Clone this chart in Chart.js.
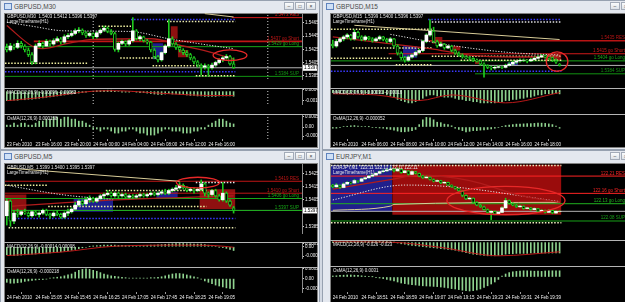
<!DOCTYPE html>
<html>
<head>
<meta charset="utf-8">
<script src="https://cdn.jsdelivr.net/npm/chart.js@4.4.1/dist/chart.umd.min.js"></script>
<style>
html, body { margin: 0; padding: 0; }
body { width: 625px; height: 302px; overflow: hidden; position: relative; background: #d3d9e3; font-family: "Liberation Sans", Arial, sans-serif; }
.win { position: absolute; background: #e4e8ef; border: 1px solid #97a1b0; box-sizing: border-box; }
.ttl { position: absolute; font-size: 6.5px; color: #4a4a4a; white-space: pre; }
.ico { position: absolute; width: 6px; height: 5px; border: 1px solid #5f83bd; background: #cfe0f6; }
.btn { position: absolute; width: 10px; height: 8px; border: 1px solid #a3abb8; background: linear-gradient(#fbfcfd, #dce1e8); box-sizing: border-box; font-size: 5px; line-height: 6px; text-align: center; color: #333; }
.blk { position: absolute; background: #000; border: 1px solid #808080; box-sizing: border-box; }
.sep { position: absolute; height: 1px; background: #b4b4b4; }
.hdr { position: absolute; font-size: 4.5px; line-height: 5px; color: #e6e6e6; white-space: pre; z-index: 5; }
canvas { position: absolute; }
</style>
</head>
<body>
<script>
// ===== MT4 four-window screenshot =====
const FONT = '"Liberation Sans", Arial, sans-serif';
const FS = 4.5;
const SLOTS = 82.5;     // bar slots across one plot
const PLOT_W = 297;
const AXIS_W = 16;
const XMAX = SLOTS - 0.5;

// ----- GBPUSD,M30 -----
const m30Times = ['23 Feb 2010', '23 Feb 16:00', '23 Feb 20:00', '24 Feb 00:00', '24 Feb 04:00', '24 Feb 08:00', '24 Feb 12:00', '24 Feb 16:00'];
const m30Candles = [
  [1.5428,1.5433,1.5421,1.5424],[1.5424,1.5434,1.5422,1.5430],[1.5430,1.5433,1.5425,1.5428],[1.5428,1.5438,1.5426,1.5434],
  [1.5434,1.5437,1.5427,1.5430],[1.5430,1.5432,1.5421,1.5424],[1.5424,1.5427,1.5414,1.5417],[1.5417,1.5420,1.5402,1.5406],
  [1.5406,1.5433,1.5403,1.5430],[1.5430,1.5438,1.5428,1.5434],[1.5434,1.5436,1.5427,1.5430],[1.5430,1.5440,1.5429,1.5437],
  [1.5437,1.5439,1.5430,1.5433],[1.5433,1.5441,1.5431,1.5438],[1.5438,1.5444,1.5436,1.5441],[1.5441,1.5443,1.5433,1.5436],
  [1.5436,1.5447,1.5434,1.5444],[1.5444,1.5449,1.5441,1.5446],[1.5446,1.5452,1.5444,1.5449],[1.5449,1.5456,1.5447,1.5453],
  [1.5453,1.5458,1.5450,1.5454],[1.5454,1.5456,1.5447,1.5450],[1.5450,1.5452,1.5443,1.5446],[1.5446,1.5451,1.5444,1.5449],
  [1.5449,1.5450,1.5441,1.5444],[1.5444,1.5452,1.5442,1.5450],[1.5450,1.5456,1.5448,1.5454],[1.5454,1.5460,1.5452,1.5457],
  [1.5457,1.5459,1.5450,1.5452],[1.5452,1.5455,1.5447,1.5449],[1.5449,1.5451,1.5422,1.5425],[1.5425,1.5436,1.5421,1.5434],
  [1.5434,1.5439,1.5432,1.5437],[1.5437,1.5438,1.5430,1.5433],[1.5433,1.5440,1.5431,1.5438],[1.5438,1.5473,1.5436,1.5453],
  [1.5453,1.5455,1.5439,1.5441],[1.5441,1.5446,1.5438,1.5444],[1.5444,1.5445,1.5436,1.5438],[1.5438,1.5440,1.5433,1.5436],
  [1.5436,1.5437,1.5421,1.5424],[1.5424,1.5426,1.5411,1.5414],[1.5414,1.5416,1.5406,1.5409],[1.5409,1.5421,1.5407,1.5420],
  [1.5420,1.5432,1.5418,1.5430],[1.5430,1.5470,1.5428,1.5441],[1.5441,1.5444,1.5431,1.5433],[1.5433,1.5435,1.5425,1.5428],
  [1.5428,1.5430,1.5421,1.5424],[1.5424,1.5426,1.5417,1.5420],[1.5420,1.5423,1.5414,1.5417],[1.5417,1.5419,1.5409,1.5412],
  [1.5412,1.5414,1.5403,1.5406],[1.5406,1.5408,1.5398,1.5401],[1.5401,1.5403,1.5386,1.5398],[1.5398,1.5403,1.5395,1.5400],
  [1.5400,1.5402,1.5385,1.5397],[1.5397,1.5404,1.5395,1.5401],[1.5401,1.5407,1.5399,1.5405],[1.5405,1.5411,1.5403,1.5409],
  [1.5409,1.5414,1.5406,1.5412],[1.5412,1.5417,1.5410,1.5414],[1.5414,1.5416,1.5401,1.5403],[1.5403,1.5412,1.5396,1.5397]
];
const m30Macd = [
  -0.0019,-0.0019,-0.0018,-0.0018,-0.0017,-0.0017,-0.0016,-0.0016,-0.0015,-0.0014,-0.0013,-0.0012,
  -0.0011,-0.0010,-0.0009,-0.0008,-0.0007,-0.0006,-0.0005,-0.0004,-0.0003,-0.0002,-0.0001,0.0000,
  0.0001,0.0002,0.0002,0.0003,0.0003,0.0003,0.0001,0.0000,-0.0001,-0.0001,-0.0001,0.0000,
  -0.0001,-0.0002,-0.0002,-0.0003,-0.0004,-0.0005,-0.0006,-0.0006,-0.0005,-0.0004,-0.0005,-0.0005,
  -0.0006,-0.0006,-0.0007,-0.0008,-0.0008,-0.0009,-0.0009,-0.0010,-0.0010,-0.0010,-0.0010,-0.0009,
  -0.0009,-0.0009,-0.0009,-0.00096
];
const m30Signal = [[0,-0.0019],[10,-0.0012],[24,0.0001],[30,0.0002],[42,-0.0003],[56,-0.0008],[63,-0.00082]];
const m30Osma = [
  0.0001,0.0001,0.0002,0.0001,0.0002,0.0002,0.0001,0.0001,0.0002,0.0003,0.0003,0.0004,
  0.0004,0.0005,0.0005,0.0004,0.0005,0.0005,0.0004,0.0004,0.0003,0.0003,0.0002,0.0001,
  -0.0001,-0.0001,-0.0002,-0.0001,-0.0001,-0.0002,-0.0003,-0.0003,-0.0002,-0.0002,-0.0001,-0.0001,
  -0.0002,-0.0003,-0.0003,-0.0004,-0.0004,-0.0004,-0.0003,-0.0002,-0.0001,-0.0001,-0.0002,-0.0002,
  -0.0002,-0.0003,-0.0003,-0.0003,-0.0002,-0.0002,-0.0001,-0.0001,0.0001,0.0002,0.0003,0.0004,
  0.0004,0.0003,0.0002,0.000158
];
const m30Levels = [[1.5473,'RES','#d21a1a',63,1],[1.5437,'go Short','#c01616',8,1.6],[1.5429,'go Long','#18a818',0,1],[1.5384,'SUP','#129212',0,1]];
const m30Dots = [[1.5470,35,63,'#3a3aff'],[1.5467,45,63,'#e8e8b0'],[1.5460,26,34,'#f0f0a0'],[1.5412,32,41,'#f0f0a0'],[1.5404,0,22,'#f0f0a0'],[1.5400,41,54,'#f0f0a0'],[1.5391,0,63,'#3a3aff'],[1.5385,53,63,'#f0f0a0']];
const m30Boxes = [[41,43,1.5410,1.5434,'#1e1e8e'],[46,47,1.5441,1.5460,'#8e1010'],[48,50,1.5413,1.5424,'#8e1010']];
const m30RedMa = [[0,1.5461],[7,1.5430],[10,1.5426],[17,1.5434],[24,1.5440],[40,1.5441],[49,1.5430],[57,1.5420],[63,1.5410]];
const m30WhiteMa = [[0,1.5466],[7,1.5460],[16,1.5453],[34,1.5452],[45,1.5441],[54,1.5433],[63,1.5426]];
const m30Cream = [[55,1.5479],[63,1.5474]];
const m30Ellipse = [62, 1.5416, 4.7, 0.0008];
const m30PriceTicks = [1.5465, 1.5445, 1.5425, 1.5405, 1.5385];
const m30MacdTicks = [0.00043, -0.00194];
const m30OsmaTicks = [0.00051, 0, -0.00045];

// ----- GBPUSD,M15 -----
const m15Times = ['24 Feb 2010', '24 Feb 06:00', '24 Feb 08:00', '24 Feb 10:00', '24 Feb 12:00', '24 Feb 14:00', '24 Feb 16:00', '24 Feb 18:00'];
const m15Candles = [
  [1.5430,1.5436,1.5424,1.5427],[1.5427,1.5437,1.5425,1.5434],[1.5434,1.5440,1.5432,1.5438],[1.5438,1.5443,1.5435,1.5441],
  [1.5441,1.5446,1.5438,1.5444],[1.5444,1.5445,1.5436,1.5438],[1.5438,1.5452,1.5436,1.5448],[1.5448,1.5450,1.5439,1.5441],
  [1.5441,1.5443,1.5435,1.5437],[1.5437,1.5443,1.5435,1.5441],[1.5441,1.5442,1.5436,1.5438],[1.5438,1.5440,1.5433,1.5435],
  [1.5435,1.5440,1.5434,1.5438],[1.5438,1.5443,1.5436,1.5441],[1.5441,1.5442,1.5435,1.5437],[1.5437,1.5439,1.5432,1.5434],
  [1.5434,1.5440,1.5432,1.5438],[1.5438,1.5439,1.5425,1.5427],[1.5427,1.5429,1.5413,1.5416],[1.5416,1.5418,1.5406,1.5409],
  [1.5409,1.5411,1.5402,1.5405],[1.5405,1.5412,1.5403,1.5410],[1.5410,1.5415,1.5408,1.5413],[1.5413,1.5419,1.5411,1.5417],
  [1.5417,1.5422,1.5415,1.5420],[1.5420,1.5436,1.5418,1.5434],[1.5434,1.5446,1.5432,1.5444],[1.5444,1.5468,1.5442,1.5450],
  [1.5450,1.5456,1.5432,1.5434],[1.5434,1.5436,1.5425,1.5427],[1.5427,1.5433,1.5426,1.5430],[1.5430,1.5431,1.5422,1.5424],
  [1.5424,1.5428,1.5423,1.5427],[1.5427,1.5428,1.5418,1.5420],[1.5420,1.5422,1.5414,1.5416],[1.5416,1.5418,1.5411,1.5413],
  [1.5413,1.5415,1.5408,1.5410],[1.5410,1.5412,1.5407,1.5409],[1.5409,1.5411,1.5405,1.5408],[1.5408,1.5409,1.5403,1.5405],
  [1.5405,1.5407,1.5402,1.5404],[1.5404,1.5405,1.5397,1.5399],[1.5399,1.5401,1.5379,1.5397],[1.5397,1.5398,1.5392,1.5394],
  [1.5394,1.5396,1.5390,1.5393],[1.5393,1.5396,1.5391,1.5394],[1.5394,1.5397,1.5393,1.5395],[1.5395,1.5396,1.5392,1.5394],
  [1.5394,1.5399,1.5393,1.5397],[1.5397,1.5401,1.5396,1.5399],[1.5399,1.5404,1.5398,1.5402],[1.5402,1.5405,1.5400,1.5404],
  [1.5404,1.5407,1.5402,1.5405],[1.5405,1.5407,1.5403,1.5405],[1.5405,1.5406,1.5401,1.5404],[1.5404,1.5408,1.5403,1.5406],
  [1.5406,1.5410,1.5405,1.5408],[1.5408,1.5412,1.5407,1.5410],[1.5410,1.5414,1.5409,1.5412],[1.5412,1.5413,1.5408,1.5410],
  [1.5410,1.5411,1.5406,1.5409],[1.5409,1.5410,1.5403,1.5405],[1.5405,1.5407,1.5400,1.5402],[1.5399,1.5400,1.5396,1.5397]
];
const m15Macd = [
  -0.0002,-0.0002,-0.0003,-0.0003,-0.0003,-0.0002,-0.0002,-0.0002,-0.0003,-0.0003,-0.0003,-0.0003,
  -0.0003,-0.0003,-0.0003,-0.0004,-0.0005,-0.0006,-0.0008,-0.0009,-0.0010,-0.0011,-0.0011,-0.0010,
  -0.0009,-0.0007,-0.0005,-0.0004,-0.0004,-0.0005,-0.0005,-0.0006,-0.0006,-0.0006,-0.0007,-0.0008,
  -0.0008,-0.0009,-0.0009,-0.0010,-0.0010,-0.0011,-0.0011,-0.0011,-0.0011,-0.0011,-0.0010,-0.0010,
  -0.0009,-0.0009,-0.0008,-0.0008,-0.0007,-0.0007,-0.0006,-0.0006,-0.0005,-0.0004,-0.0004,-0.0003,
  -0.0003,-0.0003,-0.0003,-0.00031
];
const m15Signal = [[0,-0.0003],[12,-0.0004],[24,-0.0009],[33,-0.0004],[48,-0.0011],[63,-0.0002]];
const m15Osma = [
  -0.00005,-0.00005,-0.00003,0.00002,0.00003,0.00005,0.00006,0.00004,0.00002,0.00002,0.00001,-0.00002,
  -0.00003,-0.00004,-0.00005,-0.00008,-0.0001,-0.00013,-0.00017,-0.0002,-0.0002,-0.00018,-0.00015,-0.0001,
  0.0001,0.0003,0.0004,0.00038,0.0003,0.0002,0.00018,0.00012,0.0001,0.00005,-0.00005,-0.0001,
  -0.00015,-0.0002,-0.00018,-0.00015,-0.00015,-0.00013,-0.00012,-0.0001,-0.00008,-0.00005,-0.00002,0.00003,
  0.00006,0.00008,0.0001,0.00012,0.00012,0.00013,0.00014,0.00014,0.00015,0.00016,0.00016,0.00015,
  0.00013,0.0001,0.00004,-0.000052
];
const m15Levels = [[1.5435,'RES','#b81414',27,1.4],[1.5415,'go Short','#d01a1a',16,1],[1.5404,'go Long','#18a818',0,1],[1.5384,'SUP','#129212',40,1]];
const m15Dots = [[1.5468,27,63,'#3a3aff'],[1.5464,28,63,'#e0e0e0'],[1.5453,0,27,'#f0f0a0'],[1.5424,6,27,'#f0f0a0'],[1.5408,0,16,'#f0f0a0'],[1.5398,18,27,'#f0f0a0'],[1.5411,28,63,'#f0f0a0'],[1.5405,36,63,'#f0f0a0'],[1.5388,0,63,'#3a3aff']];
const m15Boxes = [[20,23,1.5409,1.5427,'#1e1e8e'],[49,51,1.5396,1.5402,'#1e1e8e'],[28,30,1.5431,1.5441,'#8e1010'],[33,35,1.5420,1.5427,'#8e1010'],[40,41,1.5399,1.5404,'#8e1010'],[60,63,1.5404,1.5415,'#8e1010']];
const m15RedMa = [[0,1.5441],[15,1.5431],[27,1.5423],[38,1.5413],[50,1.5410],[63,1.5410]];
const m15WhiteMa = [[16,1.5445],[34,1.5427],[49,1.5417],[63,1.5413]];
const m15Cream = [[6,1.5459],[63,1.5437]];
const m15Ellipse = [62.3, 1.5403, 3, 0.0015];
const m15PriceTicks = [1.5465, 1.5445, 1.5425, 1.5405, 1.5385];
const m15MacdTicks = [0.0001, -0.0011];
const m15OsmaTicks = [0.0004, 0, -0.0004];

// ----- GBPUSD,M5 -----
const m5Times = ['24 Feb 2010', '24 Feb 15:05', '24 Feb 15:45', '24 Feb 16:25', '24 Feb 17:05', '24 Feb 17:45', '24 Feb 18:25', '24 Feb 19:05'];
const m5Candles = [
  [1.5393,1.5406,1.5386,1.5404],[1.5404,1.5405,1.5385,1.5389],[1.5389,1.5397,1.5387,1.5395],[1.5395,1.5398,1.5392,1.5394],
  [1.5394,1.5397,1.5393,1.5396],[1.5396,1.5398,1.5394,1.5395],[1.5395,1.5396,1.5392,1.5393],[1.5393,1.5397,1.5392,1.5396],
  [1.5396,1.5397,1.5393,1.5394],[1.5394,1.5396,1.5392,1.5395],[1.5395,1.5398,1.5394,1.5397],[1.5397,1.5398,1.5393,1.5394],
  [1.5394,1.5395,1.5391,1.5393],[1.5393,1.5396,1.5392,1.5395],[1.5395,1.5397,1.5393,1.5394],[1.5394,1.5395,1.5391,1.5392],
  [1.5392,1.5396,1.5391,1.5395],[1.5395,1.5398,1.5393,1.5396],[1.5396,1.5399,1.5395,1.5398],[1.5398,1.5403,1.5397,1.5401],
  [1.5401,1.5405,1.5400,1.5404],[1.5404,1.5405,1.5401,1.5402],[1.5402,1.5407,1.5401,1.5405],[1.5405,1.5408,1.5403,1.5406],
  [1.5406,1.5407,1.5403,1.5404],[1.5404,1.5407,1.5403,1.5406],[1.5406,1.5409,1.5405,1.5408],[1.5408,1.5410,1.5406,1.5409],
  [1.5409,1.5412,1.5408,1.5410],[1.5410,1.5411,1.5407,1.5408],[1.5408,1.5411,1.5407,1.5410],[1.5410,1.5411,1.5406,1.5408],
  [1.5408,1.5410,1.5407,1.5409],[1.5409,1.5410,1.5406,1.5407],[1.5407,1.5409,1.5406,1.5408],[1.5408,1.5409,1.5406,1.5407],
  [1.5407,1.5409,1.5406,1.5408],[1.5408,1.5410,1.5407,1.5409],[1.5409,1.5410,1.5407,1.5408],[1.5408,1.5410,1.5407,1.5409],
  [1.5409,1.5411,1.5408,1.5410],[1.5410,1.5411,1.5408,1.5409],[1.5409,1.5411,1.5408,1.5410],[1.5410,1.5412,1.5409,1.5411],
  [1.5411,1.5413,1.5409,1.5410],[1.5410,1.5413,1.5409,1.5412],[1.5412,1.5414,1.5411,1.5413],[1.5413,1.5416,1.5412,1.5414],
  [1.5414,1.5418,1.5413,1.5416],[1.5416,1.5417,1.5413,1.5414],[1.5414,1.5415,1.5411,1.5412],[1.5412,1.5414,1.5411,1.5413],
  [1.5413,1.5414,1.5410,1.5412],[1.5412,1.5414,1.5411,1.5413],[1.5413,1.5420,1.5412,1.5417],[1.5417,1.5418,1.5408,1.5410],
  [1.5410,1.5411,1.5407,1.5409],[1.5409,1.5413,1.5408,1.5412],[1.5412,1.5413,1.5407,1.5408],[1.5408,1.5409,1.5404,1.5405],
  [1.5405,1.5418,1.5404,1.5410],[1.5410,1.5411,1.5403,1.5404],[1.5404,1.5405,1.5400,1.5401],[1.5399,1.5400,1.5395,1.5397]
];
const m5Macd = [
  -0.00030,-0.00032,-0.00033,-0.00032,-0.00031,-0.00030,-0.00029,-0.00028,-0.00027,-0.00026,-0.00025,-0.00024,
  -0.00023,-0.00022,-0.00020,-0.00019,-0.00017,-0.00015,-0.00013,-0.00010,-0.00007,-0.00004,-0.00002,0.00001,
  0.00003,0.00004,0.00005,0.00006,0.00006,0.00006,0.00006,0.00005,0.00005,0.00005,0.00005,0.00005,
  0.00005,0.00005,0.00005,0.00005,0.00006,0.00006,0.00007,0.00008,0.00009,0.00010,0.00011,0.00012,
  0.00012,0.00012,0.00011,0.00011,0.00010,0.00010,0.00010,0.00008,0.00006,0.00004,0.00002,-0.00001,
  -0.00003,-0.00006,-0.00010,-0.00014
];
const m5Signal = [[0,-0.00033],[15,-0.00020],[30,0.00002],[48,0.00006],[57,0.00005],[63,-0.00002]];
const m5Osma = [
  -0.00008,-0.0001,-0.0001,-0.00009,-0.00008,-0.00006,-0.00005,-0.00004,-0.00003,-0.00002,-0.00002,-0.00001,
  0.00001,0.00002,0.00003,0.00004,0.00006,0.00008,0.0001,0.00014,0.00018,0.0002,0.00021,0.0002,
  0.00018,0.00016,0.00013,0.0001,0.00008,0.00006,0.00005,0.00004,0.00003,0.00002,0.00001,0.00001,
  0.00001,0.00001,0.00001,0.00001,0.00002,0.00002,0.00003,0.00004,0.00006,0.00008,0.0001,0.00011,
  0.00011,0.0001,0.00008,0.00006,0.00004,0.00002,-0.00001,-0.00005,-0.00008,-0.00011,-0.00014,-0.00016,
  -0.00018,-0.0002,-0.00021,-0.000218
];
const m5Levels = [[1.5419,'RES','#c01616',0,1],[1.5410,'go Short','#c01616',0,1],[1.5406,'go Long','#18a818',0,1],[1.5397,'SUP','#18a818',0,1]];
const m5Dots = [[1.5416,0,11,'#f0f0a0'],[1.5412,28,55,'#f0f0a0'],[1.5400,12,55,'#f0f0a0'],[1.5418,53,63,'#e8e8e8'],[1.5391,1,63,'#3a3aff'],[1.5384,1,63,'#e8e8b0']];
const m5Boxes = [[0,5,1.5396,1.5409,'#8e1010'],[19,29,1.5396,1.5406,'#1e1e8e'],[42,47,1.5406,1.5411,'#1e1e8e'],[54,63,1.5398,1.5413,'#8e1010']];
const m5RedMa = [[0,1.5400],[30,1.5405],[63,1.5408]];
const m5WhiteMa = [[0,1.5416],[15,1.5409],[30,1.5405]];
const m5Cream = [[0,1.5429],[48,1.5419]];
const m5Ellipse = [53.1, 1.5418, 6, 0.0004];
const m5PriceTicks = [1.5425, 1.5415, 1.5405, 1.5385];
const m5MacdTicks = [0.00012, 0, -0.00035];
const m5OsmaTicks = [0.00021, 0, -0.00021];

// ----- EURJPY,M1 -----
const m1Times = ['24 Feb 2010', '24 Feb 18:51', '24 Feb 18:59', '24 Feb 19:07', '24 Feb 19:15', '24 Feb 19:23', '24 Feb 19:31', '24 Feb 19:39'];
const m1Candles = [
  [122.184,122.186,122.176,122.179],[122.179,122.188,122.177,122.184],[122.184,122.185,122.174,122.177],[122.177,122.190,122.176,122.187],
  [122.187,122.194,122.185,122.192],[122.192,122.193,122.187,122.190],[122.190,122.200,122.189,122.197],[122.197,122.198,122.192,122.195],
  [122.195,122.204,122.194,122.202],[122.202,122.207,122.200,122.205],[122.205,122.212,122.204,122.210],[122.210,122.215,122.208,122.213],
  [122.213,122.220,122.212,122.218],[122.218,122.225,122.216,122.223],[122.223,122.228,122.221,122.225],[122.225,122.231,122.224,122.228],
  [122.228,122.234,122.227,122.230],[122.230,122.232,122.222,122.225],[122.225,122.234,122.224,122.230],[122.230,122.231,122.218,122.220],
  [122.220,122.227,122.219,122.225],[122.225,122.226,122.213,122.215],[122.215,122.225,122.214,122.223],[122.223,122.224,122.216,122.218],
  [122.218,122.219,122.208,122.210],[122.210,122.212,122.203,122.205],[122.205,122.210,122.204,122.207],[122.207,122.208,122.198,122.200],
  [122.200,122.202,122.193,122.195],[122.195,122.199,122.194,122.197],[122.197,122.198,122.188,122.190],[122.190,122.194,122.189,122.192],
  [122.192,122.193,122.182,122.184],[122.184,122.185,122.177,122.179],[122.179,122.180,122.172,122.174],[122.174,122.175,122.165,122.167],
  [122.167,122.168,122.150,122.154],[122.154,122.156,122.142,122.144],[122.144,122.149,122.143,122.146],[122.146,122.147,122.131,122.134],
  [122.134,122.136,122.124,122.126],[122.126,122.128,122.119,122.121],[122.121,122.123,122.111,122.113],[122.113,122.115,122.103,122.105],
  [122.105,122.110,122.084,122.108],[122.108,122.109,122.098,122.100],[122.100,122.107,122.099,122.105],[122.105,122.121,122.104,122.118],
  [122.118,122.146,122.116,122.139],[122.139,122.141,122.129,122.131],[122.131,122.133,122.124,122.126],[122.126,122.128,122.119,122.121],
  [122.121,122.125,122.120,122.123],[122.123,122.124,122.114,122.116],[122.116,122.120,122.115,122.118],[122.118,122.119,122.111,122.113],
  [122.113,122.118,122.112,122.116],[122.116,122.117,122.106,122.108],[122.108,122.113,122.107,122.111],[122.111,122.112,122.103,122.105],
  [122.105,122.113,122.104,122.111],[122.111,122.112,122.101,122.103],[122.103,122.110,122.102,122.108],[122.108,122.110,122.106,122.108]
];
const m1Macd = [
  0.002,0.002,0.002,0.002,0.003,0.003,0.003,0.003,0.003,0.003,0.003,0.003,
  0.003,0.003,0.003,0.003,0.002,0.001,-0.001,-0.003,-0.004,-0.006,-0.007,-0.008,
  -0.009,-0.010,-0.011,-0.012,-0.013,-0.014,-0.015,-0.016,-0.017,-0.018,-0.019,-0.021,
  -0.023,-0.025,-0.027,-0.029,-0.030,-0.031,-0.032,-0.033,-0.033,-0.033,-0.032,-0.031,
  -0.029,-0.028,-0.028,-0.027,-0.027,-0.027,-0.027,-0.026,-0.026,-0.026,-0.026,-0.026,
  -0.026,-0.026,-0.026,-0.026
];
const m1Signal = [[0,0.002],[16,0.001],[30,-0.012],[46,-0.033],[63,-0.023]];
const m1Osma = [
  0.0005,0.0006,0.0008,0.0009,0.001,0.001,0.0009,0.0008,0.0006,0.0004,0.0002,0.0001,
  -0.0002,-0.0005,-0.0008,-0.0012,-0.0016,-0.002,-0.0025,-0.003,-0.0033,-0.0036,-0.0038,-0.004,
  -0.0042,-0.0044,-0.0045,-0.0046,-0.0047,-0.0048,-0.005,-0.0052,-0.0055,-0.0058,-0.006,-0.0063,
  -0.0066,-0.0068,-0.007,-0.0068,-0.0065,-0.006,-0.0052,-0.0044,-0.0035,-0.0025,-0.0012,0.0004,
  0.0015,0.0022,0.0026,0.0028,0.003,0.0031,0.0031,0.003,0.0029,0.0029,0.0028,0.003,
  0.0031,0.0031,0.0031,0.0031
];
const m1Levels = [[122.21,'RES','#ff2424',0,1],[122.16,'go Short','#ff2424',0,1],[122.13,'go Long','#20b020',0,1],[122.08,'SUP','#18a018',0,1]];
const m1Dots = [[122.241,0,63,'#f0f0c0'],[122.075,0,63,'#f0f0c0']];
const m1Boxes = [[0,16,122.108,122.243,'#20208c'],[17,63,122.098,122.243,'#9a0c0c']];
const m1RedMa = [[0,122.172],[16,122.200],[24,122.213],[38,122.197],[52,122.154],[63,122.134]];
const m1WhiteMa = [[0,122.141],[20,122.184],[33,122.179],[63,122.136]];
const m1Cream = [[0,122.111],[16,122.123],[17,122.128],[63,122.134]];
const m1Ellipse = [48.1, 122.139, 16.4, 0.041];
const m1PriceTicks = [122.23, 122.19, 122.15, 122.11, 122.07];
const m1MacdTicks = [0.003, -0.033];
const m1OsmaTicks = [0.0031, 0, -0.007];

// ===== drawing =====
const overlayPlugin = {
  id: 'mt4',
  afterDatasetsDraw(chart, args, o) {
    if (!o || !o.on) return;
    const { ctx, chartArea: a, scales: { x, y } } = chart;
    ctx.save();
    ctx.font = `${FS}px ${FONT}`;
    ctx.textAlign = 'right';
    ctx.textBaseline = 'bottom';
    (o.levels || []).forEach(([v, name, col]) => {
      ctx.fillStyle = col;
      ctx.fillText(`${v.toFixed(o.digits)} ${name}`, a.right - 3, y.getPixelForValue(v) - 0.5);
    });
    if (o.ellipse) {
      const [cx, cy, dx, dy] = o.ellipse;
      const px = x.getPixelForValue(cx), py = y.getPixelForValue(cy);
      const rx = Math.abs(x.getPixelForValue(cx + dx) - px);
      const ry = Math.abs(y.getPixelForValue(cy + dy) - py);
      ctx.beginPath();
      ctx.ellipse(px, py, rx, ry, 0, 0, Math.PI * 2);
      ctx.strokeStyle = '#e82828';
      ctx.lineWidth = 1.3;
      ctx.stroke();
    }
    if (o.last != null) {
      const py = y.getPixelForValue(o.last);
      ctx.fillStyle = '#fff';
      ctx.fillRect(a.right + 1, py - 3, AXIS_W - 2, 6);
      ctx.fillStyle = '#000';
      ctx.textAlign = 'left';
      ctx.textBaseline = 'middle';
      ctx.fillText(o.last.toFixed(o.digits), a.right + 2, py + 0.3);
    }
    ctx.restore();
  }
};
Chart.register(overlayPlugin);

function xAxis(show, times) {
  return {
    type: 'linear', min: -0.5, max: XMAX, offset: false, display: show,
    afterBuildTicks: s => { s.ticks = times.map((t, k) => ({ value: k * 8 })); },
    afterFit: s => { s.height = 9; s.paddingLeft = 0; s.paddingRight = 0; },
    grid: { drawOnChartArea: false, color: '#9a9a9a', tickLength: 2 },
    border: { display: false },
    ticks: { color: '#f0f0f0', font: { size: FS, family: FONT }, align: 'start', padding: 1, maxRotation: 0, autoSkip: false,
      callback: (v, k) => times[k] }
  };
}

function yAxis(min, max, ticks, fmt) {
  return {
    position: 'right', min, max,
    afterBuildTicks: s => { s.ticks = ticks.map(v => ({ value: v })); },
    afterFit: s => { s.width = AXIS_W; s.paddingTop = 0; s.paddingBottom = 0; },
    grid: { drawOnChartArea: false, color: '#d0d0d0', tickLength: 2 },
    border: { color: '#8c8c8c' },
    ticks: { color: '#f0f0f0', font: { size: FS, family: FONT }, padding: 1, autoSkip: false, callback: v => fmt(v) }
  };
}

const flat = (v, a, b, col, w, dash, order) => ({
  type: 'line', data: [{ x: a, y: v }, { x: b, y: v }], borderColor: col, borderWidth: w, borderDash: dash, pointRadius: 0, order
});
const curve = (pts, col, w, dash) => ({
  type: 'line', data: pts.map(([x, y]) => ({ x, y })), borderColor: col, borderWidth: w, borderDash: dash,
  pointRadius: 0, tension: 0.4, cubicInterpolationMode: 'monotone', order: 3
});
const vlines = (xs, lo, hi) => xs.map(x => ({
  type: 'line', data: [{ x, y: lo }, { x, y: hi }], borderColor: '#cfcfcf', borderWidth: 1, borderDash: [1, 2], pointRadius: 0, order: 8
}));

function pane(left, top, height, datasets, y, showTime, times, overlay) {
  const cv = document.createElement('canvas');
  cv.width = PLOT_W + AXIS_W;
  cv.height = height;
  cv.style.left = left + 'px';
  cv.style.top = top + 'px';
  document.body.appendChild(cv);
  return new Chart(cv, {
    type: 'line',
    data: { datasets },
    options: {
      responsive: false, animation: false, devicePixelRatio: 1, events: [],
      layout: { padding: 0 },
      plugins: { legend: { display: false }, tooltip: { enabled: false }, mt4: overlay || { on: false } },
      scales: { x: xAxis(showTime, times), y }
    }
  });
}

function priceSets(w) {
  const sets = [];
  w.boxes.forEach(([a, b, lo, hi, col]) => sets.push({
    type: 'line', data: [{ x: a - 0.5, y: hi }, { x: b + 0.5, y: hi }], borderWidth: 0, pointRadius: 0,
    backgroundColor: col, fill: { value: lo }, order: 10
  }));
  sets.push(...vlines(w.vlines, w.pMin, w.pMax));
  w.levels.forEach(([v, name, col, from, lw]) => sets.push(flat(v, from - 0.5, XMAX, col, lw, [], 7)));
  const last = w.candles[w.candles.length - 1][3];
  sets.push(flat(last, -0.5, XMAX, '#b4b4b4', 1, [], 7));
  w.dots.forEach(([v, a, b, col]) => sets.push(flat(v, a - 0.5, b + 0.5, col, 1.5, [1.5, 1.6], 6)));
  sets.push(curve(w.redMa, '#b01c1c', 1.3, []));
  sets.push(curve(w.whiteMa, '#e8e8e8', 1, [1.2, 1.6]));
  sets.push(curve(w.cream, '#d8cc98', 1, []));
  const up = w.candles.map(k => k[3] >= k[0]);
  sets.push({ type: 'bar', data: w.candles.map((k, i) => ({ x: i, y: [k[2], k[1]] })), backgroundColor: '#1ec81e',
    barThickness: 1, grouped: false, order: 2 });
  sets.push({ type: 'bar', data: w.candles.map((k, i) => ({ x: i, y: [k[0], k[3]] })),
    backgroundColor: up.map(u => u ? '#ffffff' : '#000000'), borderColor: '#1ec81e',
    borderWidth: up.map(u => u ? 0 : 1), borderSkipped: false, barThickness: 3, grouped: false, order: 1 });
  return sets;
}

function histSets(values, signal, vl, lo, hi) {
  const sets = [
    { type: 'bar', data: values.map((v, i) => ({ x: i, y: v })), backgroundColor: '#8fd28f', barThickness: 1, grouped: false, order: 2 },
    ...vlines(vl, lo, hi)
  ];
  if (signal) sets.push({ type: 'line', data: signal.map(([x, y]) => ({ x, y })), borderColor: '#b81818', borderWidth: 1,
    pointRadius: 0, tension: 0.4, cubicInterpolationMode: 'monotone', order: 1 });
  return sets;
}

const fmtP = d => v => v.toFixed(d);
const fmtI = d => v => (v === 0 ? '0.00' : v.toFixed(d));

const windows = [
  { frame: [0, 0, 320, 150], blk: [4, 13, 314, 135], left: 5, tops: [13, 89, 115], hs: [75, 24, 33], seps: [88, 114],
    title: 'GBPUSD,M30', btns: [284, 295, 306],
    hdr: ['GBPUSD,M30  1.5403 1.5412 1.5396 1.5397', 'LargeTimeframe(H1)', 'MACD(12,26,9) -0.00096 -0.00082', 'OsMA(12,26,9) 0.000158'],
    digits: 4, times: m30Times, candles: m30Candles, levels: m30Levels, dots: m30Dots, boxes: m30Boxes,
    redMa: m30RedMa, whiteMa: m30WhiteMa, cream: m30Cream, ellipse: m30Ellipse, vlines: [24, 72.5],
    pMin: 1.5380, pMax: 1.5480, pTicks: m30PriceTicks,
    macd: m30Macd, signal: m30Signal, mMin: -0.0026, mMax: 0.00056, mTicks: m30MacdTicks, mFmt: fmtI(5),
    osma: m30Osma, oMin: -0.0006, oMax: 0.00061, oTicks: m30OsmaTicks, oFmt: fmtI(5) },
  { frame: [322, 0, 320, 150], blk: [330, 13, 320, 135], left: 331, tops: [13, 89, 115], hs: [75, 24, 33], seps: [88, 114],
    title: 'GBPUSD,M15', btns: [610, 621],
    hdr: ['GBPUSD,M15  1.5399 1.5400 1.5396 1.5397', 'LargeTimeframe(H1)', 'MACD(12,26,9) -0.00031 -0.00016', 'OsMA(12,26,9) -0.000052'],
    digits: 4, times: m15Times, candles: m15Candles, levels: m15Levels, dots: m15Dots, boxes: m15Boxes,
    redMa: m15RedMa, whiteMa: m15WhiteMa, cream: m15Cream, ellipse: m15Ellipse, vlines: [],
    pMin: 1.5376, pMax: 1.5478, pTicks: m15PriceTicks,
    macd: m15Macd, signal: m15Signal, mMin: -0.0012, mMax: 0.00012, mTicks: m15MacdTicks, mFmt: fmtI(5),
    osma: m15Osma, oMin: -0.0005, oMax: 0.0005, oTicks: m15OsmaTicks, oFmt: fmtI(5) },
  { frame: [0, 150, 320, 155], blk: [4, 163, 314, 142], left: 5, tops: [164, 243, 268], hs: [78, 24, 33], seps: [242, 267],
    title: 'GBPUSD,M5', btns: [284, 295, 306],
    hdr: ['GBPUSD,M5  1.5399 1.5400 1.5395 1.5397', 'LargeTimeframe(H1)', 'MACD(12,26,9) -0.00014 0.00008', 'OsMA(12,26,9) -0.000218'],
    digits: 4, times: m5Times, candles: m5Candles, levels: m5Levels, dots: m5Dots, boxes: m5Boxes,
    redMa: m5RedMa, whiteMa: m5WhiteMa, cream: m5Cream, ellipse: m5Ellipse, vlines: [],
    pMin: 1.5380, pMax: 1.5432, pTicks: m5PriceTicks,
    macd: m5Macd, signal: m5Signal, mMin: -0.00042, mMax: 0.00014, mTicks: m5MacdTicks, mFmt: fmtI(5),
    osma: m5Osma, oMin: -0.00029, oMax: 0.00023, oTicks: m5OsmaTicks, oFmt: fmtI(5) },
  { frame: [322, 150, 320, 155], blk: [330, 163, 320, 142], left: 331, tops: [164, 241, 267], hs: [76, 25, 34], seps: [240, 266],
    title: 'EURJPY,M1', btns: [610, 621],
    hdr: ['EURJPY,M1  122.11 122.11 122.11 122.11', 'LargeTimeframe(H1)', 'MACD(12,26,9) -0.026 -0.023', 'OsMA(12,26,9) 0.0031'],
    digits: 2, times: m1Times, candles: m1Candles, levels: m1Levels, dots: m1Dots, boxes: m1Boxes,
    redMa: m1RedMa, whiteMa: m1WhiteMa, cream: m1Cream, ellipse: m1Ellipse, vlines: [],
    pMin: 122.051, pMax: 122.245, pTicks: m1PriceTicks,
    macd: m1Macd, signal: m1Signal, mMin: -0.036, mMax: 0.004, mTicks: m1MacdTicks, mFmt: fmtI(3),
    osma: m1Osma, oMin: -0.0075, oMax: 0.005, oTicks: m1OsmaTicks, oFmt: fmtI(4) }
];

function box(cls, l, t, w, h, text) {
  const d = document.createElement('div');
  d.className = cls;
  d.style.left = l + 'px';
  d.style.top = t + 'px';
  if (w != null) d.style.width = w + 'px';
  if (h != null) d.style.height = h + 'px';
  if (text) d.textContent = text;
  document.body.appendChild(d);
  return d;
}

windows.forEach(w => {
  const [fl, ft, fw, fh] = w.frame;
  box('win', fl, ft, fw, fh);
  box('ico', fl + 4, ft + 3, null, null);
  box('ttl', fl + 14, ft + 2.5, null, null, w.title);
  ['\u2013', '\u25a1', '\u00d7'].forEach((g, k) => { if (w.btns[k] != null) box('btn', w.btns[k], ft + 2, null, null, g); });
  const [bl, bt, bw, bh] = w.blk;
  box('blk', bl, bt, bw, bh);
  w.seps.forEach(s => box('sep', bl, s, bw, null));

  const [pt, mt, ot] = w.tops;
  const [ph, mh, oh] = w.hs;
  pane(w.left, pt, ph, priceSets(w), yAxis(w.pMin, w.pMax, w.pTicks, fmtP(w.digits)), false, w.times,
    { on: true, levels: w.levels, ellipse: w.ellipse, last: w.candles[w.candles.length - 1][3], digits: w.digits });
  pane(w.left, mt, mh, histSets(w.macd, w.signal, w.vlines, w.mMin, w.mMax), yAxis(w.mMin, w.mMax, w.mTicks, w.mFmt), false, w.times);
  pane(w.left, ot, oh, histSets(w.osma, null, w.vlines, w.oMin, w.oMax), yAxis(w.oMin, w.oMax, w.oTicks, w.oFmt), true, w.times);

  box('hdr', w.left + 2, pt + 1, null, null, w.hdr[0] + '\n' + w.hdr[1]);
  box('hdr', w.left + 2, mt + 1, null, null, w.hdr[2]);
  box('hdr', w.left + 2, ot + 1, null, null, w.hdr[3]);
});
</script>
</body>
</html>
